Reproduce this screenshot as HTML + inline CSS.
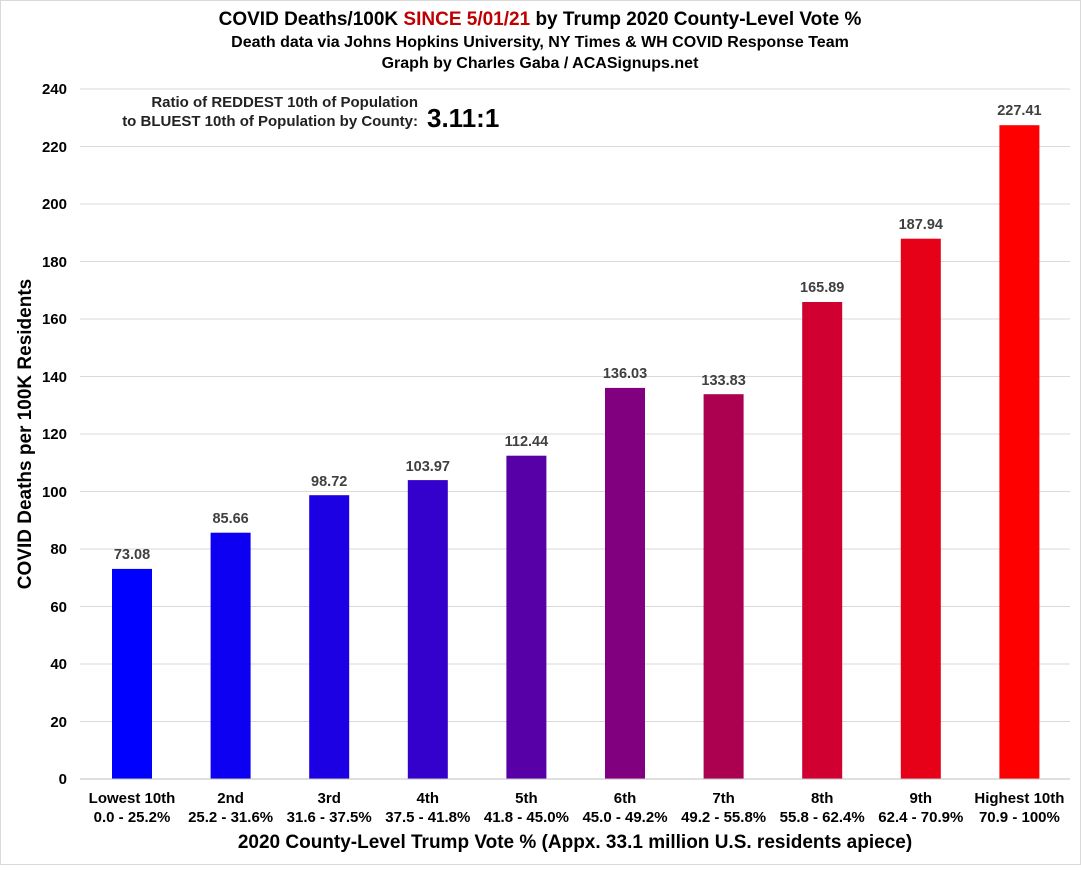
<!DOCTYPE html><html><head><style>body{margin:0;background:#fff}</style></head><body>
<svg width="1081" height="865" xmlns="http://www.w3.org/2000/svg" font-family="Liberation Sans, Arial, sans-serif">
<rect x="0.5" y="0.5" width="1080" height="864" fill="#fff" stroke="#d9d9d9"/>
<text x="540" y="25" text-anchor="middle" font-size="19" font-weight="bold">COVID Deaths/100K <tspan fill="#c00000">SINCE 5/01/21</tspan> by Trump 2020 County-Level Vote %</text>
<text x="540" y="47" text-anchor="middle" font-size="16" font-weight="bold">Death data via Johns Hopkins University, NY Times &amp; WH COVID Response Team</text>
<text x="540" y="68" text-anchor="middle" font-size="16" font-weight="bold">Graph by Charles Gaba / ACASignups.net</text>
<g stroke="#d9d9d9" stroke-width="1">
<line x1="80" x2="1070" y1="89" y2="89"/><line x1="80" x2="1070" y1="146.5" y2="146.5"/><line x1="80" x2="1070" y1="204" y2="204"/><line x1="80" x2="1070" y1="261.5" y2="261.5"/><line x1="80" x2="1070" y1="319" y2="319"/><line x1="80" x2="1070" y1="376.5" y2="376.5"/><line x1="80" x2="1070" y1="434" y2="434"/><line x1="80" x2="1070" y1="491.5" y2="491.5"/><line x1="80" x2="1070" y1="549" y2="549"/><line x1="80" x2="1070" y1="606.5" y2="606.5"/><line x1="80" x2="1070" y1="664" y2="664"/><line x1="80" x2="1070" y1="721.5" y2="721.5"/><line x1="80" x2="1070" y1="779" y2="779"/>
</g>
<g font-size="15" font-weight="bold" text-anchor="end">
<text x="67" y="94">240</text><text x="67" y="152">220</text><text x="67" y="209">200</text><text x="67" y="267">180</text><text x="67" y="324">160</text><text x="67" y="382">140</text><text x="67" y="439">120</text><text x="67" y="497">100</text><text x="67" y="554">80</text><text x="67" y="612">60</text><text x="67" y="669">40</text><text x="67" y="727">20</text><text x="67" y="784">0</text>
</g>
<text transform="translate(31,434) rotate(-90)" text-anchor="middle" font-size="19" font-weight="bold">COVID Deaths per 100K Residents</text>
<text x="418" y="107" text-anchor="end" font-size="15" font-weight="bold" fill="#222">Ratio of REDDEST 10th of Population</text>
<text x="418" y="126" text-anchor="end" font-size="15" font-weight="bold" fill="#222">to BLUEST 10th of Population by County:</text>
<text x="427" y="127" font-size="26" font-weight="bold">3.11:1</text>
<g font-size="14.5" font-weight="bold" text-anchor="middle">
<rect x="112" y="568.9" width="40" height="210.1" fill="#0000ff"/><text x="132" y="559" fill="#404040">73.08</text>
<rect x="210.6" y="532.7" width="40" height="246.3" fill="#0d00f2"/><text x="230.6" y="523" fill="#404040">85.66</text>
<rect x="309.2" y="495.2" width="40" height="283.8" fill="#1c00e3"/><text x="329.2" y="486" fill="#404040">98.72</text>
<rect x="407.8" y="480.1" width="40" height="298.9" fill="#3400cb"/><text x="427.8" y="471" fill="#404040">103.97</text>
<rect x="506.4" y="455.7" width="40" height="323.3" fill="#5800a7"/><text x="526.4" y="446" fill="#404040">112.44</text>
<rect x="605" y="387.9" width="40" height="391.1" fill="#800080"/><text x="625" y="378" fill="#404040">136.03</text>
<rect x="703.6" y="394.2" width="40" height="384.8" fill="#ac0050"/><text x="723.6" y="385" fill="#404040">133.83</text>
<rect x="802.2" y="302" width="40" height="477" fill="#d00030"/><text x="822.2" y="292" fill="#404040">165.89</text>
<rect x="900.8" y="238.7" width="40" height="540.3" fill="#e60018"/><text x="920.8" y="229" fill="#404040">187.94</text>
<rect x="999.4" y="125.2" width="40" height="653.8" fill="#ff0000"/><text x="1019.4" y="115" fill="#404040">227.41</text>
</g>
<line x1="80" x2="1070" y1="779" y2="779" stroke="#bfbfbf"/>
<g font-size="15" font-weight="bold" text-anchor="middle">
<text x="132" y="803">Lowest 10th</text><text x="132" y="822">0.0 - 25.2%</text>
<text x="230.6" y="803">2nd</text><text x="230.6" y="822">25.2 - 31.6%</text>
<text x="329.2" y="803">3rd</text><text x="329.2" y="822">31.6 - 37.5%</text>
<text x="427.8" y="803">4th</text><text x="427.8" y="822">37.5 - 41.8%</text>
<text x="526.4" y="803">5th</text><text x="526.4" y="822">41.8 - 45.0%</text>
<text x="625" y="803">6th</text><text x="625" y="822">45.0 - 49.2%</text>
<text x="723.6" y="803">7th</text><text x="723.6" y="822">49.2 - 55.8%</text>
<text x="822.2" y="803">8th</text><text x="822.2" y="822">55.8 - 62.4%</text>
<text x="920.8" y="803">9th</text><text x="920.8" y="822">62.4 - 70.9%</text>
<text x="1019.4" y="803">Highest 10th</text><text x="1019.4" y="822">70.9 - 100%</text>
</g>
<text x="575" y="848" text-anchor="middle" font-size="19" font-weight="bold">2020 County-Level Trump Vote % (Appx. 33.1 million U.S. residents apiece)</text>
</svg>
</body></html>
